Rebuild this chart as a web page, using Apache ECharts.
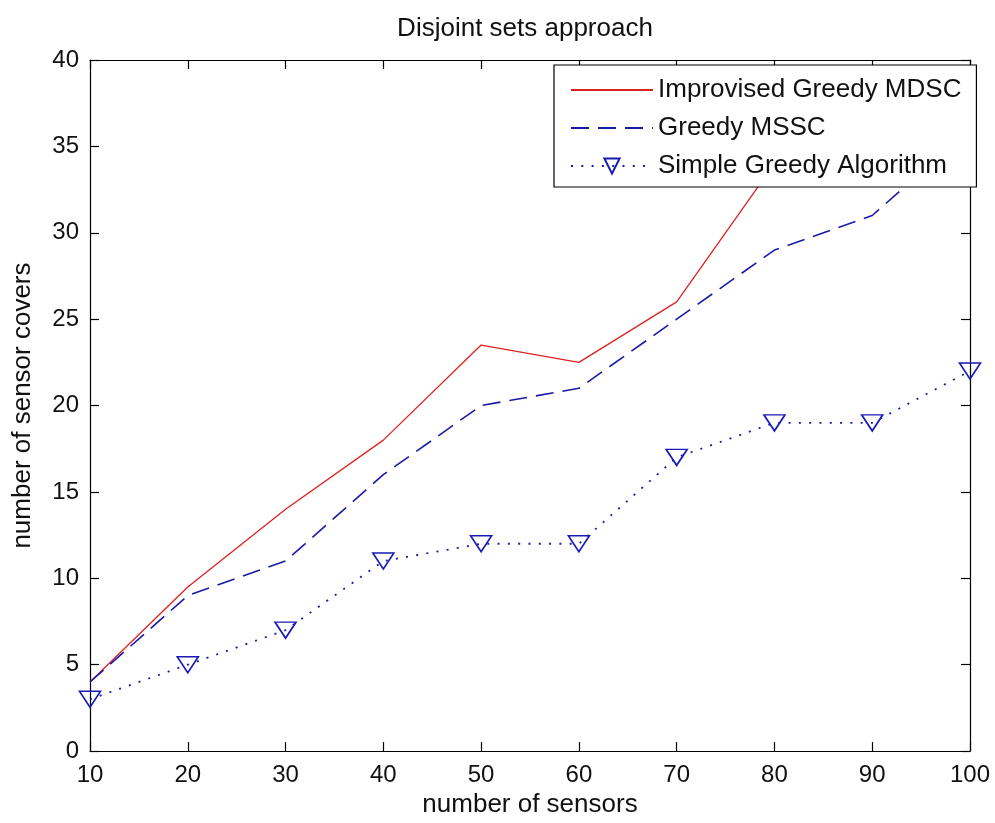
<!DOCTYPE html>
<html>
<head>
<meta charset="utf-8">
<title>Disjoint sets approach</title>
<script src="https://cdn.jsdelivr.net/npm/echarts@6/dist/echarts.min.js"></script>
<style>
  html, body { margin: 0; padding: 0; background: #ffffff; }
  #chart { width: 995px; height: 823px; }
</style>
</head>
<body>
<div id="chart"></div>
<script>
// Number of sensors (x) and the cover counts found by each method
const sensors = [10, 20, 30, 40, 50, 60, 70, 80, 90, 100];
const improvisedGreedyMDSC = [4, 9.5, 14, 18, 23.5, 22.5, 26, 34, 37, 39.5];
const greedyMSSC = [4, 9, 11, 16, 20, 21, 25, 29, 31, 36];
const simpleGreedy = [3, 5, 7, 11, 12, 12, 17, 19, 19, 22];

const xTicks = { min: 10, max: 100, step: 10 };
const yTicks = { min: 0, max: 40, step: 5 };

const FONT = '"Liberation Sans", Arial, Helvetica, sans-serif';

function pairs(xs, ys) {
  return xs.map((x, i) => [x, ys[i]]);
}

const chart = echarts.init(document.getElementById('chart'), null, { renderer: 'canvas' });

const axisCommon = {
  type: 'value',
  axisLine: { show: true, onZero: false, lineStyle: { color: '#000', width: 1.2 } },
  axisTick: { show: true, inside: true, length: 9, lineStyle: { color: '#000', width: 1.2 } },
  splitLine: { show: false }
};

// Plain line entries in the legend: hide the marker the line series would add
const noMarker = { opacity: 0, color: 'rgba(0,0,0,0)', borderWidth: 0 };

const option = {
  backgroundColor: '#ffffff',
  animation: false,
  textStyle: { fontFamily: FONT },
  title: {
    text: 'Disjoint sets approach',
    left: 525,
    top: 16,
    padding: 0,
    textAlign: 'center',
    textStyle: { fontFamily: FONT, fontSize: 26, fontWeight: 'normal', color: '#111', lineHeight: 26 }
  },
  grid: { left: 90, right: 25, top: 60, bottom: 71, containLabel: false },
  legend: {
    orient: 'vertical',
    left: 554,
    top: 65,
    padding: [12, 15, 8, 16],
    itemGap: 12,
    itemWidth: 82,
    itemHeight: 19,
    backgroundColor: '#ffffff',
    borderColor: '#000',
    borderWidth: 1.2,
    borderRadius: 0,
    textStyle: { fontFamily: FONT, fontSize: 26, color: '#111', lineHeight: 26 },
    data: [
      { name: 'Improvised Greedy MDSC', itemStyle: noMarker },
      { name: 'Greedy MSSC', itemStyle: noMarker },
      { name: 'Simple Greedy Algorithm' }
    ]
  },
  xAxis: [
    Object.assign({}, axisCommon, {
      position: 'bottom',
      min: xTicks.min, max: xTicks.max, interval: xTicks.step,
      name: 'number of sensors',
      nameLocation: 'middle',
      nameGap: 40,
      nameTextStyle: { fontFamily: FONT, fontSize: 26, color: '#111', lineHeight: 26 },
      axisLabel: { show: true, margin: 12, fontFamily: FONT, fontSize: 24, color: '#111' }
    }),
    Object.assign({}, axisCommon, {
      position: 'top',
      min: xTicks.min, max: xTicks.max, interval: xTicks.step,
      axisLabel: { show: false }
    })
  ],
  yAxis: [
    Object.assign({}, axisCommon, {
      position: 'left',
      min: yTicks.min, max: yTicks.max, interval: yTicks.step,
      name: 'number of sensor covers',
      nameLocation: 'middle',
      nameRotate: 90,
      nameGap: 54,
      nameTextStyle: { fontFamily: FONT, fontSize: 26, color: '#111', lineHeight: 26 },
      axisLabel: { show: true, margin: 11, fontFamily: FONT, fontSize: 24, color: '#111' }
    }),
    Object.assign({}, axisCommon, {
      position: 'right',
      min: yTicks.min, max: yTicks.max, interval: yTicks.step,
      axisLabel: { show: false }
    })
  ],
  series: [
    {
      name: 'Improvised Greedy MDSC',
      type: 'line',
      data: pairs(sensors, improvisedGreedyMDSC),
      symbol: 'none',
      showSymbol: false,
      color: '#dd2222',
      lineStyle: { color: '#dd2222', width: 1.3, type: 'solid' },
      z: 3
    },
    {
      name: 'Greedy MSSC',
      type: 'line',
      data: pairs(sensors, greedyMSSC),
      symbol: 'none',
      showSymbol: false,
      color: '#1a1aa8',
      lineStyle: { color: '#1a1aa8', width: 1.6, type: [18, 9] },
      z: 3
    },
    {
      name: 'Simple Greedy Algorithm',
      type: 'line',
      data: pairs(sensors, simpleGreedy),
      symbol: 'triangle',
      symbolRotate: 180,
      symbolSize: [21, 16],
      showSymbol: true,
      color: '#1a1aa8',
      itemStyle: { color: 'rgba(255,255,255,0)', borderColor: '#1a1ab4', borderWidth: 1.6 },
      lineStyle: { color: '#1a1aa8', width: 1.8, type: [2, 8.3] },
      clip: false,
      z: 4
    }
  ]
};

chart.setOption(option);
</script>
</body>
</html>
